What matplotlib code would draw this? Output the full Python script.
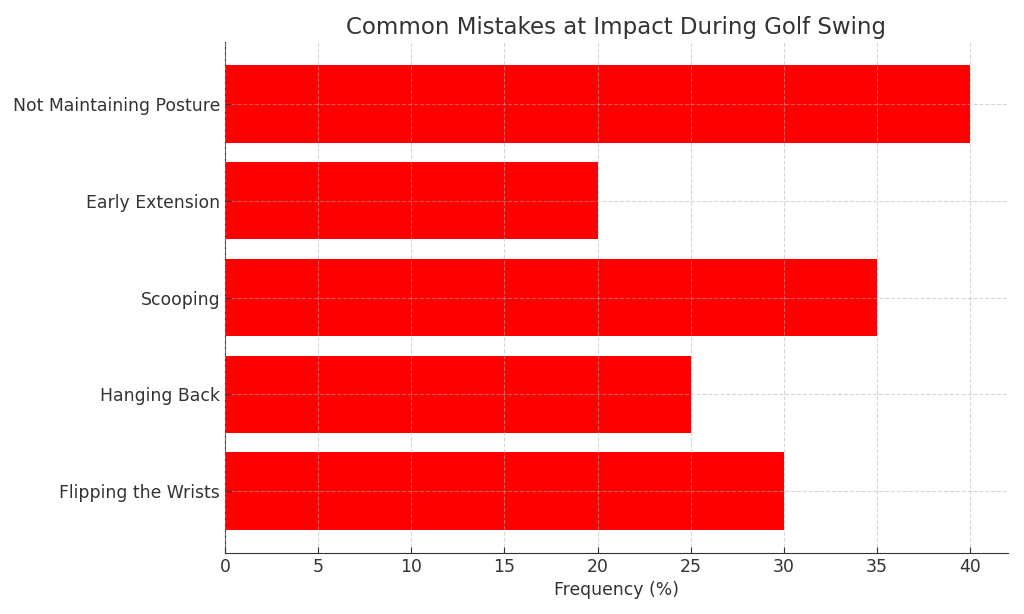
import matplotlib
matplotlib.use("Agg")
import matplotlib.pyplot as plt

# Data
mistakes = ['Flipping the Wrists', 'Hanging Back', 'Scooping',
            'Early Extension', 'Not Maintaining Posture']
frequency = [30, 25, 35, 20, 40]

plt.rcParams.update({
    'font.family': 'DejaVu Sans',
    'text.color': '#333333',
    'axes.labelcolor': '#333333',
    'xtick.color': '#333333',
    'ytick.color': '#333333',
    'axes.edgecolor': '#333333',
})

fig = plt.figure(figsize=(10.24, 6.14), dpi=100)
ax = fig.add_axes([0.2197, 0.0993, 0.7643, 0.8323])

ax.barh(mistakes, frequency, color='red', height=0.8)
ax.set_axisbelow(False)
ax.grid(True, linestyle='--', color='#b0b0b0', linewidth=0.8, alpha=0.5)

ax.spines['top'].set_visible(False)
ax.spines['right'].set_visible(False)

ax.set_title('Common Mistakes at Impact During Golf Swing', fontsize=16.5)
ax.set_xlabel('Frequency (%)', fontsize=12.4)
ax.tick_params(labelsize=12.4, direction='in', length=4)

fig.savefig('out.png', dpi=100)
